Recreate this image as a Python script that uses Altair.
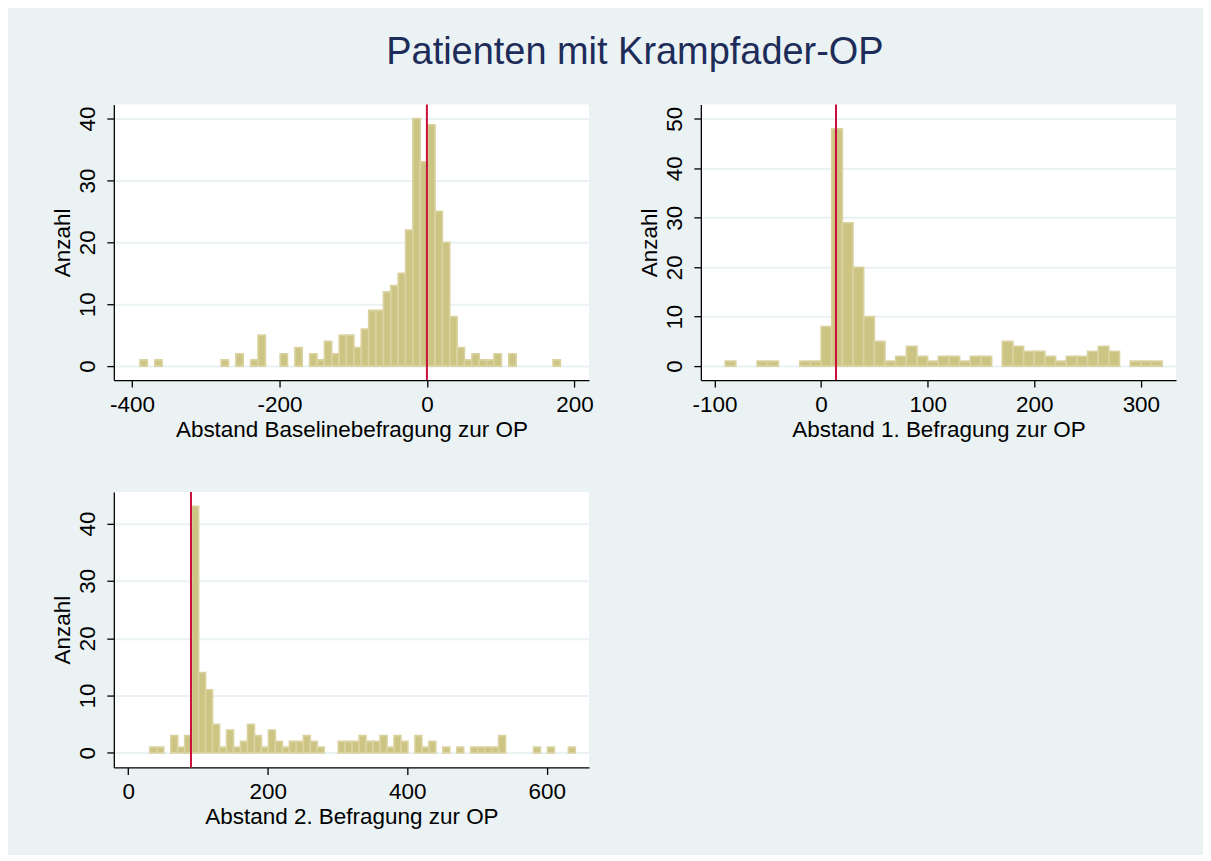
import altair as alt
import pandas as pd

# ---- data ----
p1_start = -389
p1_width = 10
p1_counts = [1, 0, 1, 0, 0, 0, 0, 0, 0, 0,
             0, 1, 0, 2, 0, 1, 5, 0, 0, 2,
             0, 3, 0, 2, 1, 4, 2, 5, 5, 3,
             6, 9, 9, 12, 13, 15, 22, 40, 33, 39,
             25, 20, 8, 3, 1, 2, 1, 1, 2, 0,
             2, 0, 0, 0, 0, 0, 1]

p2_start = -90
p2_width = 10
p2_counts = [1, 0, 0, 1, 1, 0, 0, 1, 1, 8,
             48, 29, 20, 10, 5, 1, 2, 4, 2, 1,
             2, 2, 1, 2, 2, 0, 5, 4, 3, 3,
             2, 1, 2, 2, 3, 4, 3, 0, 1, 1,
             1]

p3_start = 31
p3_width = 10
p3_counts = [1, 1, 0, 3, 1, 3, 43, 14, 11, 5,
             1, 4, 1, 2, 5, 3, 1, 4, 2, 1,
             2, 2, 3, 2, 1, 0, 0, 2, 2, 2,
             3, 2, 2, 3, 1, 3, 2, 0, 3, 1,
             2, 0, 1, 0, 1, 0, 1, 1, 1, 1,
             3, 0, 0, 0, 0, 1, 0, 1, 0, 0,
             1]

titles = ["Abstand Baselinebefragung zur OP",
          "Abstand 1. Befragung zur OP",
          "Abstand 2. Befragung zur OP"]
ref_lines = [0, 14, 90]
x_ticks = [[-400, -200, 0, 200], [-100, 0, 100, 200, 300], [0, 200, 400, 600]]
y_ticks = [[0, 10, 20, 30, 40], [0, 10, 20, 30, 40, 50], [0, 10, 20, 30, 40]]
x_domains = [[-424.5, 219.8], [-112.8, 333.0], [-20.6, 660.6]]
y_domains = [[-2.26, 42.26], [-2.83, 52.89], [-2.54, 45.5]]

FONT = "Liberation Sans"
BG = "#EAF2F3"
BAR_FILL = "#CCC483"
BAR_STROKE = "#DAD3A1"
RED = "#C8103A"
FS = 22.5


def make_df(start, width, counts):
    rows = []
    for i, c in enumerate(counts):
        rows.append({"lo": start + i * width, "hi": start + (i + 1) * width,
                     "count": c, "base": 0})
    return pd.DataFrame(rows)


def panel(df, xt, xd, yd, xv, yv, ref):
    x_axis = alt.Axis(values=xv, title=xt, grid=False, labelExpr="'' + datum.value",
                      labelFontSize=FS, titleFontSize=FS, labelFont=FONT, titleFont=FONT,
                      labelColor="black", titleColor="black", titleFontWeight="normal",
                      domainColor="black", tickColor="black", domainWidth=1.3, tickWidth=1.3,
                      tickSize=7, labelPadding=6, titlePadding=3)
    y_axis = alt.Axis(values=yv, title="Anzahl", grid=True, gridColor=BG, gridWidth=2,
                      labelAngle=-90, labelAlign="center", labelBaseline="alphabetic",
                      labelFontSize=FS, titleFontSize=FS, labelFont=FONT, titleFont=FONT,
                      labelColor="black", titleColor="black", titleFontWeight="normal",
                      domainColor="black", tickColor="black", domainWidth=1.3, tickWidth=1.3,
                      tickSize=7, labelPadding=12, titlePadding=2)
    bars = alt.Chart(df).transform_filter("datum.count > 0").mark_bar(
        fill=BAR_FILL, stroke=BAR_STROKE, strokeWidth=1.6
    ).encode(
        x=alt.X("lo:Q", scale=alt.Scale(domain=xd, nice=False, zero=False), axis=x_axis),
        x2="hi:Q",
        y=alt.Y("count:Q", scale=alt.Scale(domain=yd, nice=False, zero=False), axis=y_axis),
        y2="base:Q",
    )
    rule = alt.Chart(pd.DataFrame({"lo": [ref]})).mark_rule(
        color=RED, strokeWidth=2
    ).encode(x="lo:Q")
    return alt.layer(bars, rule).properties(width=476, height=276)


p1 = panel(make_df(p1_start, p1_width, p1_counts), titles[0], x_domains[0], y_domains[0],
           x_ticks[0], y_ticks[0], ref_lines[0])
p2 = panel(make_df(p2_start, p2_width, p2_counts), titles[1], x_domains[1], y_domains[1],
           x_ticks[1], y_ticks[1], ref_lines[1])
p3 = panel(make_df(p3_start, p3_width, p3_counts), titles[2], x_domains[2], y_domains[2],
           x_ticks[2], y_ticks[2], ref_lines[2])

top = alt.hconcat(p1, p2, spacing=45)
chart = alt.vconcat(top, p3, spacing=50).properties(
    title=alt.TitleParams("Patienten mit Krampfader-OP", fontSize=38, font=FONT,
                          color="#1E2C5A", fontWeight="normal", anchor="middle",
                          offset=32, dx=21),
    background=BG,
    padding={"left": 44, "top": 25, "right": 27, "bottom": 26},
).configure_view(fill="white", stroke=None)

chart.save("out.html", embed_options={"renderer": "svg", "actions": False})
